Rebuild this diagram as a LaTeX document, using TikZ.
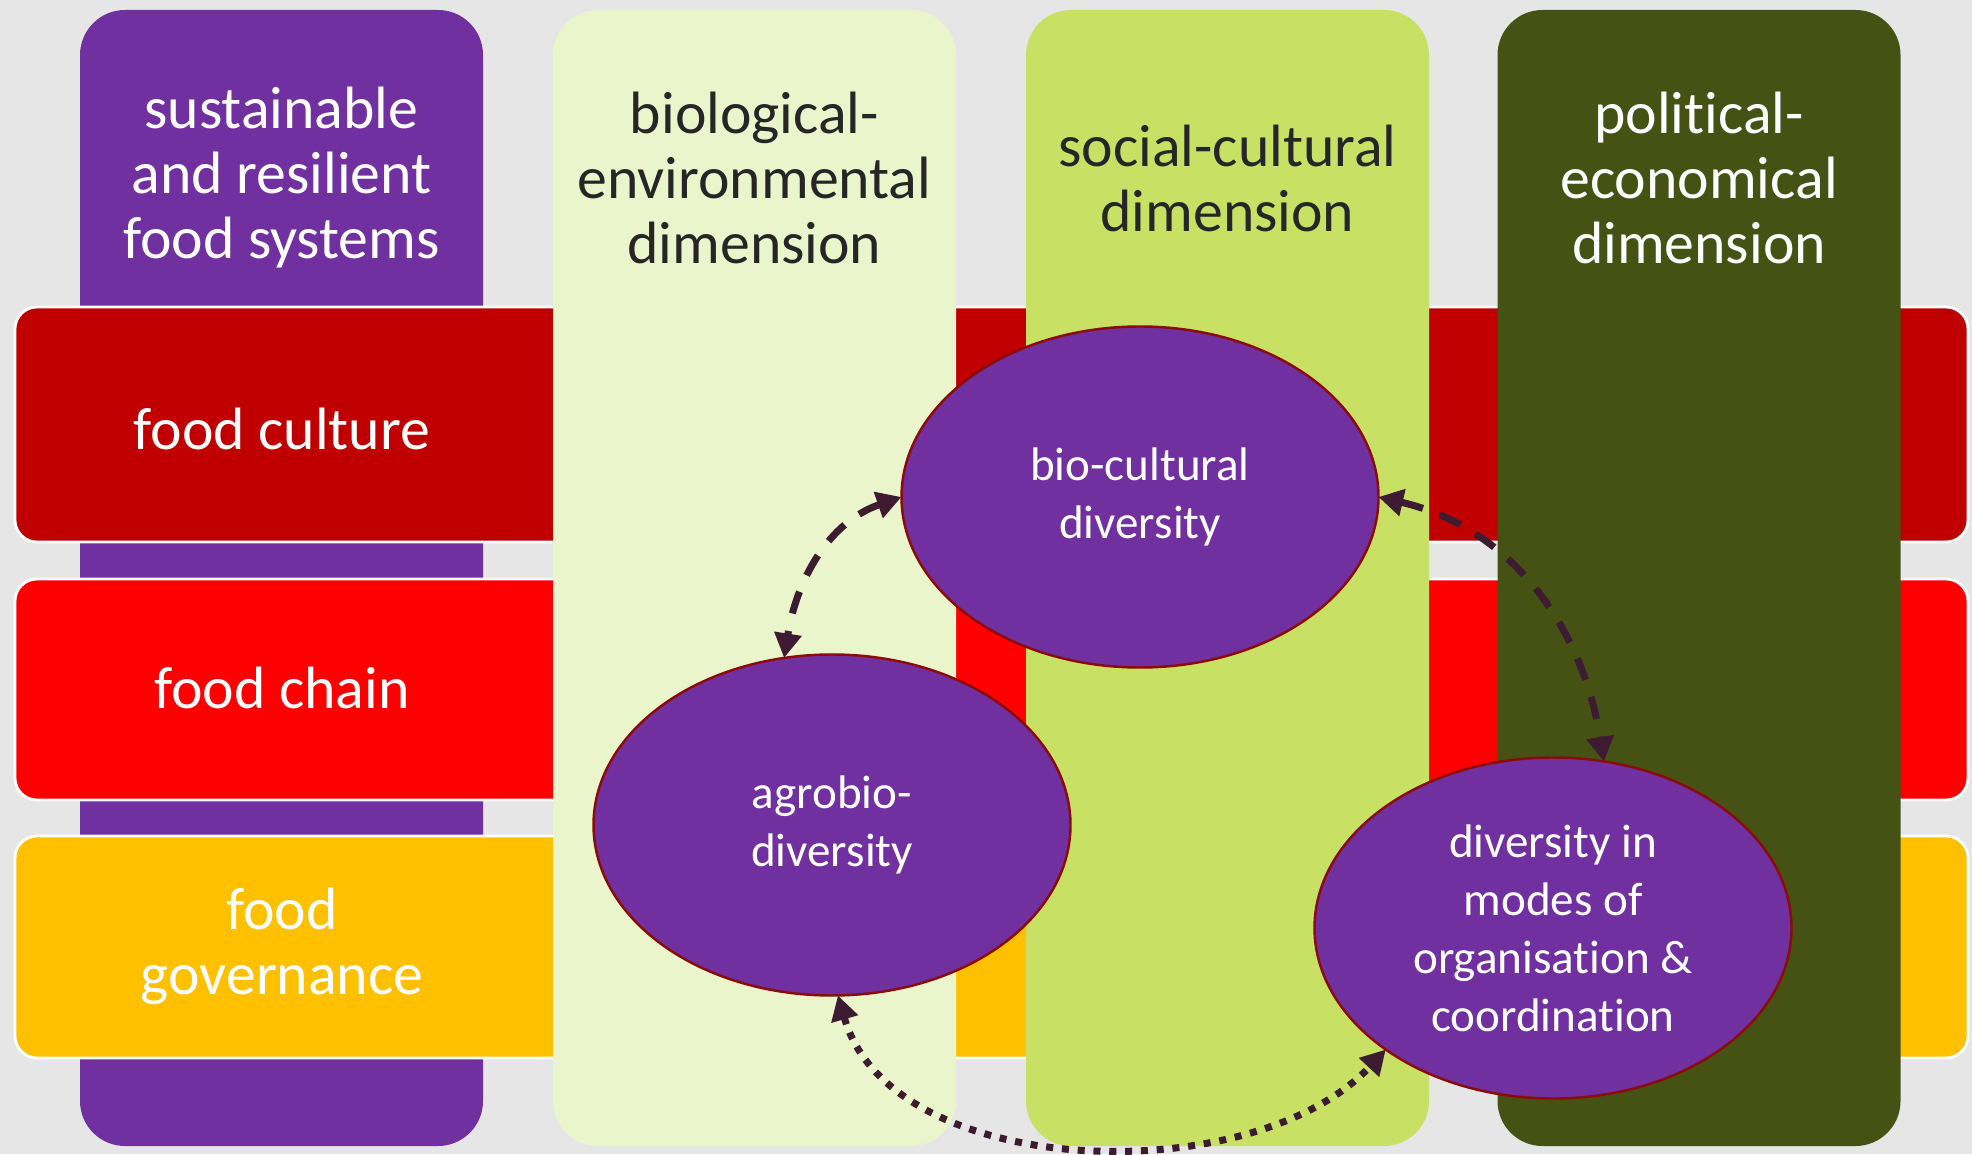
\documentclass[tikz,border=0pt]{standalone}
\usepackage{fontspec}
\setmainfont{Carlito}[Ligatures=CommonOff]
\usetikzlibrary{shapes.geometric,arrows.meta}
\definecolor{sysviolet}{HTML}{7030A0}
\definecolor{culturered}{HTML}{C00000}
\definecolor{chainred}{HTML}{FF0000}
\definecolor{govyellow}{HTML}{FFC000}
\definecolor{biogreen}{HTML}{EBF5CC}
\definecolor{socgreen}{HTML}{C8E165}
\definecolor{polgreen}{HTML}{455214}
\definecolor{rimred}{HTML}{8B0A0A}
\definecolor{linkplum}{HTML}{3D1B30}
\definecolor{slidegray}{HTML}{E6E6E6}
\definecolor{darktext}{HTML}{262626}

\begin{document}
\begin{tikzpicture}[
    col/.style={rectangle, rounded corners=0.45cm, minimum width=4.03cm, minimum height=11.36cm, inner sep=0pt, outer sep=0pt},
    band/.style={rectangle, rounded corners=0.22cm, draw=white, line width=0.8pt, minimum width=19.53cm, inner sep=0pt, outer sep=0pt},
    lbl/.style={align=center, inner sep=0pt, font=\fontsize{17pt}{18.5pt}\selectfont},
    ellnode/.style={ellipse, fill=sysviolet, draw=rimred, line width=0.7pt, minimum width=4.77cm, minimum height=3.41cm, inner sep=0pt, outer sep=0pt, align=center, text=white, font=\fontsize{13.4pt}{16.5pt}\selectfont}]
        \useasboundingbox (0,0) rectangle (19.72,11.54);
        \fill[slidegray] (0,0) rectangle (19.72,11.54);
        \node[col, fill=sysviolet] (sys) at (2.815,5.76) {};
        \begin{scope}[every node/.style={band}]
                \node[fill=culturered, minimum height=2.35cm] (culture) at (9.915,7.295) {};
                \node[fill=chainred, minimum height=2.21cm] (chain) at (9.915,4.645) {};
                \node[fill=govyellow, minimum height=2.22cm] (gov) at (9.915,2.07) {};
        \end{scope}
        \node[col, fill=biogreen] (bioenv) at (7.545,5.76) {};
        \node[col, fill=socgreen] (soccult) at (12.275,5.76) {};
        \node[col, fill=polgreen] (polecon) at (16.99,5.76) {};
        \begin{scope}[every node/.style={lbl}]
                \node[text=white] (systxt) at (2.815,9.76) {sustainable\\and resilient\\food systems};
                \node[text=darktext] (bioenvtxt) at (7.545,9.76) {biological-\\environmental\\dimension};
                \node[text=darktext] (socculttxt) at (12.275,9.76) {social-cultural\\dimension};
                \node[text=white] (potecontxt) at (16.99,9.76) {political-\\economical\\dimension};
                \node[text=white] (culturetxt) at (2.82,7.25) {food culture};
                \node[text=white] (chaintxt) at (2.82,4.66) {food chain};
                \node[text=white] (govtxt) at (2.82,2.08) {food\\governance};
        \end{scope}
        \node[ellnode] (biocult) at (11.40,6.57) {bio-cultural\\diversity};
        \node[ellnode] (agro) at (8.32,3.29) {agrobio-\\diversity};
        \node[ellnode] (modes) at (15.53,2.26) {diversity in\\modes of\\organisation \&\\coordination};
        \begin{scope}[every path/.style={line width=2pt, linkplum, <->, >={Triangle[length=7pt,width=7.5pt]}}]
                \path (biocult.west) edge [dash pattern=on 6.5pt off 5.1pt, out=199, in=81] (agro.106);
                \path (biocult.east) edge [dash pattern=on 6.5pt off 5.1pt, out=-13, in=99] (modes.73);
                \path (agro.272) edge [dash pattern=on 2pt off 2.5pt, out=286, in=227, looseness=0.9] (modes.216);
        \end{scope}
\end{tikzpicture}
\end{document}
